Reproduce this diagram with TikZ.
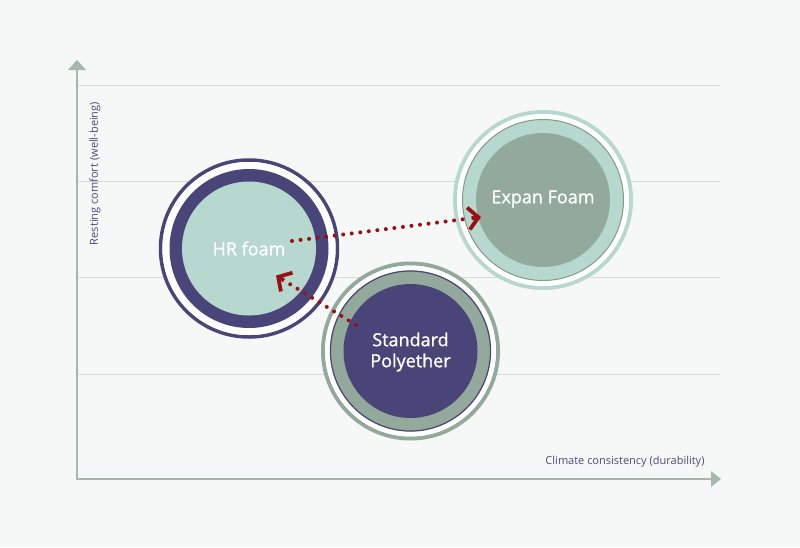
\documentclass[tikz,border=0pt]{standalone}
\usepackage{fontspec}
\setmainfont{Open Sans}
\newfontfamily\bubblefont{Open Sans}[FakeBold=1.2]
\usetikzlibrary{arrows.meta,calc}
\definecolor{bgc}{HTML}{F5F8F7}
\definecolor{gridc}{HTML}{D6DCD9}
\definecolor{axisc}{HTML}{A6B7AD}
\definecolor{purp}{HTML}{4A4579}
\definecolor{teal}{HTML}{B6D8CE}
\definecolor{sage}{HTML}{93A99B}
\definecolor{darkred}{HTML}{9A1014}
\definecolor{labc}{HTML}{4B4A7D}
\tikzset{
  gridline/.style={draw=gridc, line width=1pt},
  axisline/.style={draw=axisc, line width=2pt},
  labeltext/.style={text=labc, font=\fontsize{11}{13}\selectfont, inner sep=0pt},
  bubbletext/.style={text=white, font=\bubblefont\fontsize{18}{21}\selectfont, align=center, inner sep=0pt},
  dotline/.style={draw=darkred, line width=4pt, line cap=round, dash pattern=on 0pt off 8.6pt},
  chevron/.style={draw=darkred, line width=3.8pt, -{Straight Barb[length=10pt,width=22pt,line width=3.8pt]}},
}
\begin{document}
\begin{tikzpicture}[x=1pt,y=-1pt]
\useasboundingbox (0,0) rectangle (800,547);
\fill[bgc] (0,0) rectangle (800,547);
% grid
\foreach \yy in {85,181,277.5,374} \draw[gridline] (77,\yy) -- (720,\yy);
% axes
\coordinate (origin) at (77,479);
\coordinate (ytop) at (77,68);
\coordinate (xend) at (712,479);
\draw[axisline] (origin) -- (ytop);
\draw[axisline] (76,479) -- (xend);
\fill[axisc] (77,60) -- (86,70) -- (68,70) -- cycle;
\fill[axisc] (721,479) -- (711,471) -- (711,487) -- cycle;
\node[labeltext, rotate=90] (ylab) at (95,173.5) {Resting comfort (well-being)};
\node[labeltext] (xlab) at (625,462) {Climate consistency (durability)};
% HR foam
\coordinate (hrc) at (249,248.5);
\draw[purp, line width=3.5pt] (hrc) circle (88.5);
\fill[white] (hrc) circle (86.5);
\fill[purp] (hrc) circle (79.5);
\fill[teal] (hrc) circle (67);
\node[bubbletext] (hr) at (hrc) {HR foam};
% Expan Foam
\coordinate (exc) at (543,200);
\draw[teal, line width=4pt] (exc) circle (88);
\fill[white] (exc) circle (86);
\fill[teal] (exc) circle (80.5);
\draw[sage!90!black, line width=1pt] (exc) circle (80.5);
\fill[sage] (exc) circle (67);
\node[bubbletext] (ex) at (543,199) {Expan Foam};
% Standard Polyether
\coordinate (stc) at (410.5,351);
\draw[sage, line width=4pt] (stc) circle (87.5);
\fill[white] (stc) circle (85.5);
\fill[sage] (stc) circle (80.5);
\draw[purp, line width=1.2pt] (stc) circle (80);
\fill[purp] (stc) circle (67);
\node[bubbletext] (st) at (410.5,352) {Standard\\Polyether};
% dotted arrows
\coordinate (a1s) at (292,241);
\coordinate (a1e) at (481,217);
\coordinate (a2s) at (356,325);
\coordinate (a2e) at (276,275.5);
\draw[dotline] (a1s) -- ($(a1s)!0.93!(a1e)$);
\draw[chevron] ($(a1s)!0.95!(a1e)$) -- (a1e);
\draw[dotline] (a2s) -- ($(a2s)!0.88!(a2e)$);
\draw[chevron] ($(a2s)!0.9!(a2e)$) -- (a2e);
\end{tikzpicture}
\end{document}
